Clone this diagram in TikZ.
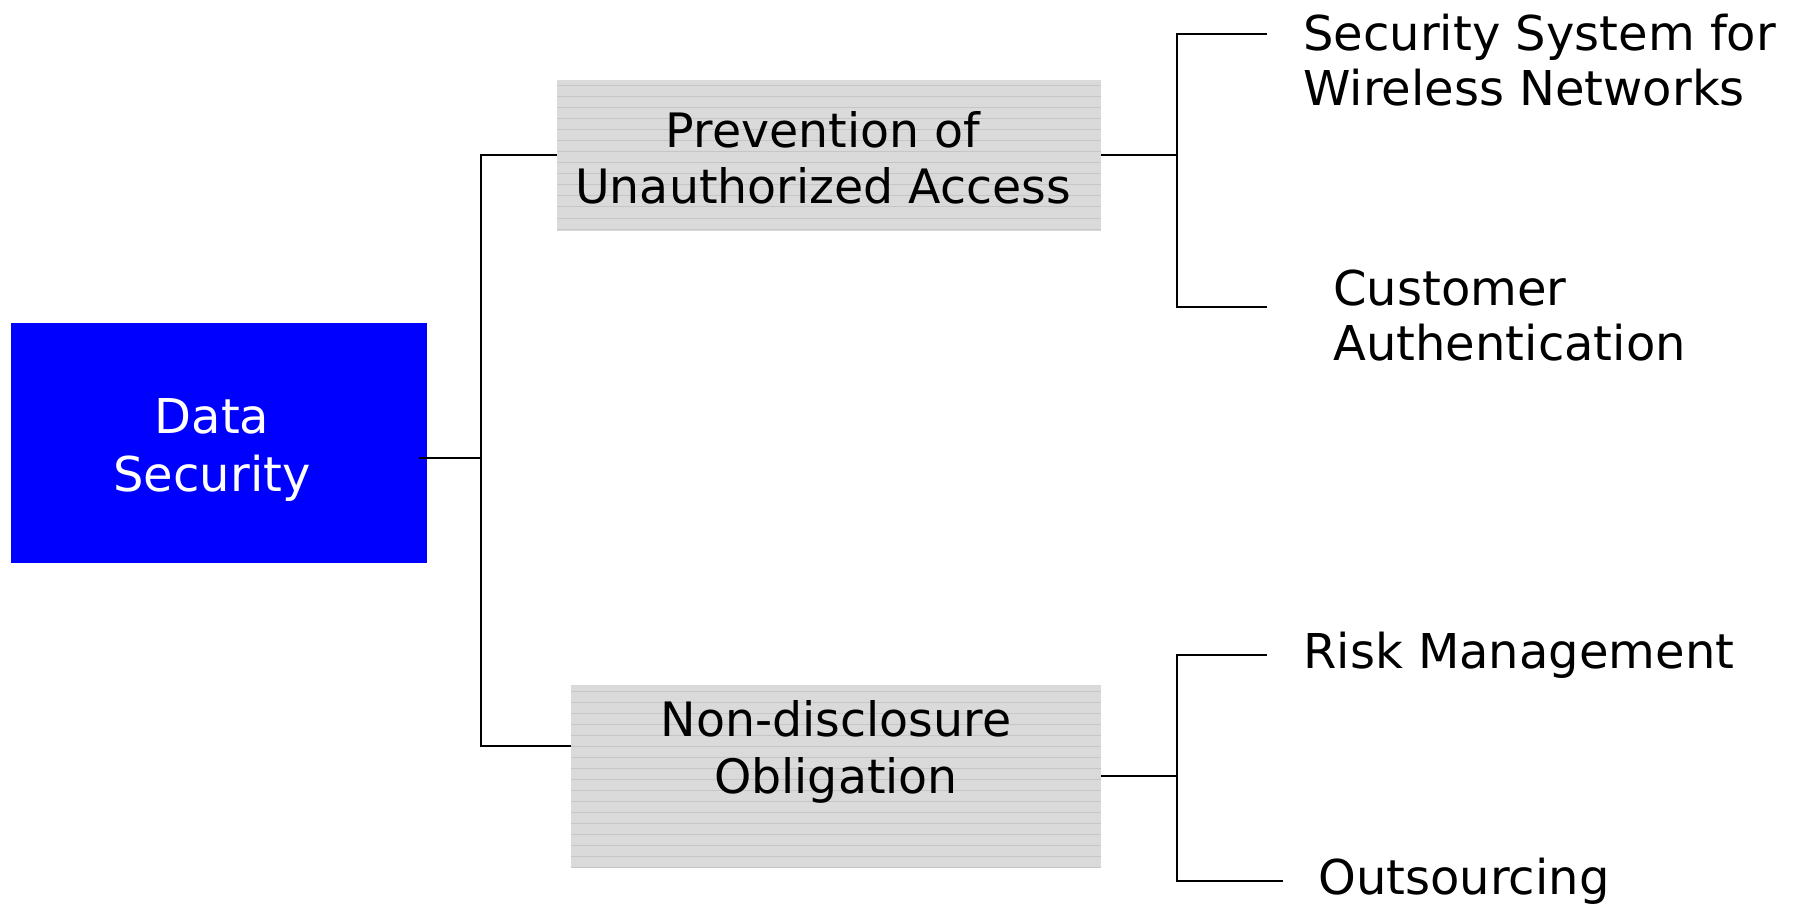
\documentclass[tikz,border=0pt]{standalone}
\usepackage{fontspec}
\setmainfont{DejaVu Sans}
\definecolor{boxgray}{HTML}{DADADA}
\definecolor{stripe}{HTML}{C6C6C6}
\definecolor{pureblue}{RGB}{0,0,255}
\begin{document}
\begin{tikzpicture}[x=0.5pt,y=-0.5pt,
  conn/.style={draw=black,line width=0.8pt},
  lbl/.style={inner sep=0pt,align=left,font=\fontsize{24}{27.5}\selectfont},
  ctext/.style={inner sep=0pt,align=center,font=\fontsize{24}{27.5}\selectfont},
  bluebox/.style={fill=pureblue,draw=none,inner sep=0pt,minimum width=208pt,minimum height=120pt},
  graybox/.style={fill=boxgray,draw=none,inner sep=0pt}]
\useasboundingbox (0,0) rectangle (1795,904);
\fill[white] (0,0) rectangle (1795,904);
% root
\node[bluebox] (root) at (219,443) {};
\node[ctext,text=white,font=\fontsize{24}{29}\selectfont] (roottxt) at (212,450) {Data\\Security};
% gray box 1
\node[graybox,minimum width=272pt,minimum height=75.5pt] (g1) at (829,155.5) {};
\begin{scope}
\clip (557,80) rectangle (1101,231);
\foreach \yy in {86,97,...,231} \draw[stripe,line width=0.5pt] (557,\yy) -- (1101,\yy);
\end{scope}
\node[ctext,font=\fontsize{23.7}{28}\selectfont] (g1txt) at (823,158) {Prevention of\\Unauthorized Access};
% gray box 2
\node[graybox,minimum width=265pt,minimum height=91pt] (g2) at (836,776) {};
\begin{scope}
\clip (571,685) rectangle (1101,867);
\foreach \yy in {691,702,...,867} \draw[stripe,line width=0.5pt] (571,\yy) -- (1101,\yy);
\end{scope}
\node[ctext,font=\fontsize{23.7}{28.5}\selectfont] (g2txt) at (836,752) {Non-disclosure\\Obligation};
% leaves
\node[lbl,anchor=west] (l1) at (1303,60) {Security System for\\Wireless Networks};
\node[lbl,anchor=west] (l2) at (1333,316) {Customer\\Authentication};
\node[lbl,anchor=west] (l3) at (1303,655) {Risk Management};
\node[lbl,anchor=west] (l4) at (1318,881) {Outsourcing};
% junctions
\coordinate (jL) at (481,458);
\coordinate (jA) at (1177,155);
\coordinate (jB) at (1177,776);
\coordinate (e1) at (1267,34);
\coordinate (e2) at (1267,307);
\coordinate (e3) at (1267,655);
\coordinate (e4) at (1283,881);
% connectors
\draw[conn] ([xshift=-4pt]root.east |- jL) -- (jL);
\draw[conn] (g1.west |- 0,155) -| (jL) |- (g2.west |- 0,746);
\draw[conn] (g1.east |- jA) -- (jA);
\draw[conn] (e1) -| (jA) |- (e2);
\draw[conn] (g2.east |- jB) -- (jB);
\draw[conn] (e3) -| (jB) |- (e4);
\end{tikzpicture}
\end{document}
